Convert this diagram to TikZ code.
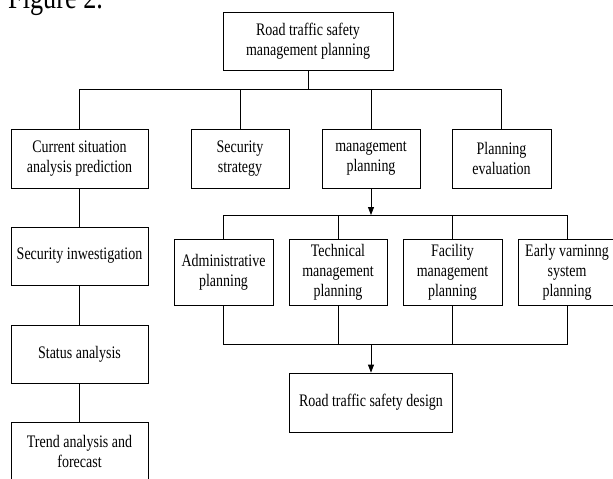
\documentclass[tikz,border=0pt]{standalone}
\usepackage{fontspec}
\setmainfont{Liberation Serif}[FakeStretch=0.795]
\usetikzlibrary{arrows.meta}
\begin{document}
\begin{tikzpicture}[x=1pt,y=-1pt,
  box/.style={draw, line width=0.8pt, inner sep=0pt, align=center,
    font=\fontsize{17.6}{20}\selectfont, minimum height=58pt},
  conn/.style={line width=0.8pt},
  arr/.style={conn, -{Triangle[length=8pt,width=6pt]}}]
\useasboundingbox (0,0) rectangle (613,479);
\node[anchor=base west, inner sep=0pt, font=\fontsize{33}{33}\selectfont] (fig) at (8,9) {Figure 2.};
% top
\node[box, minimum width=170pt] (top) at (308,41) {Road traffic safety\\management planning};
% row 2
\node[box, minimum width=137pt, minimum height=59pt] (cur) at (79.5,158.5) {Current situation\\analysis prediction};
\node[box, minimum width=98pt, minimum height=59pt] (sec) at (240,158.5) {Security\\strategy};
\node[box, minimum width=98pt, minimum height=59pt] (mgmt) at (371,158.5) {management\\planning};
\node[box, minimum width=99pt, minimum height=59pt] (eval) at (501.5,158.5) {Planning\\evaluation};
% left column
\node[box, minimum width=137pt] (inv) at (79.5,256) {Security inwestigation};
\node[box, minimum width=137pt] (stat) at (79.5,354) {Status analysis};
\node[box, minimum width=137pt] (trend) at (79.5,451) {Trend analysis and\\forecast};
% row 3
\node[box, minimum width=99pt, minimum height=66pt] (adm) at (223.5,272) {Administrative\\planning};
\node[box, minimum width=98pt, minimum height=66pt] (tech) at (338,272) {Technical\\management\\planning};
\node[box, minimum width=99pt, minimum height=66pt] (fac) at (452.5,272) {Facility\\management\\planning};
\node[box, minimum width=98pt, minimum height=66pt] (early) at (567,272) {Early varninng\\system\\planning};
% design
\node[box, minimum width=163pt, minimum height=59pt] (design) at (371,402.5) {Road traffic safety design};
% bus coordinates
\coordinate (b1) at (308,89);
\coordinate (b2) at (371,215);
\coordinate (b3) at (371,344);
% connectors
\draw[conn] (top.south) -- (b1);
\draw[conn] (cur.north) -- (cur.north |- b1) -- (eval.north |- b1) -- (eval.north);
\draw[conn] (sec.north) -- (sec.north |- b1);
\draw[conn] (mgmt.north) -- (mgmt.north |- b1);
\draw[conn] (cur.south) -- (inv.north);
\draw[conn] (inv.south) -- (stat.north);
\draw[conn] (stat.south) -- (trend.north);
\draw[arr] (mgmt.south) -- (b2);
\draw[conn] (adm.north) -- (adm.north |- b2) -- (early.north |- b2) -- (early.north);
\draw[conn] (tech.north) -- (tech.north |- b2);
\draw[conn] (fac.north) -- (fac.north |- b2);
\draw[conn] (adm.south) -- (adm.south |- b3) -- (early.south |- b3) -- (early.south);
\draw[conn] (tech.south) -- (tech.south |- b3);
\draw[conn] (fac.south) -- (fac.south |- b3);
\draw[arr] (b3) -- (design.north);
\end{tikzpicture}
\end{document}
